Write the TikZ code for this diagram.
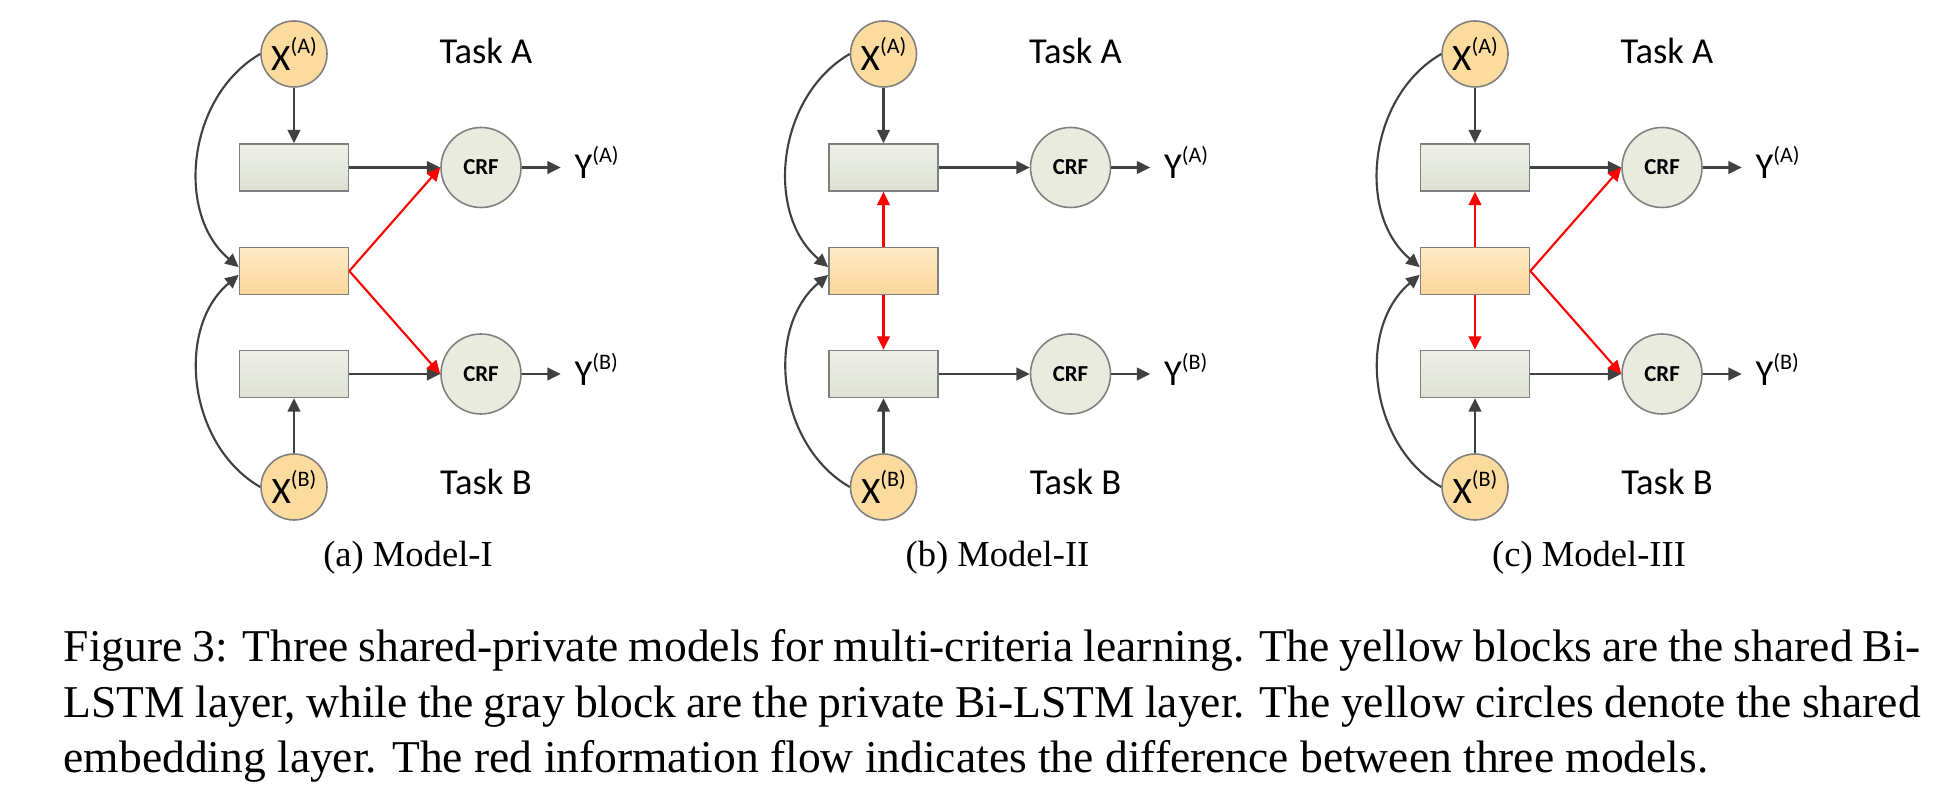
\documentclass[tikz,border=0pt]{standalone}
\usepackage{fontspec}
\setmainfont{Liberation Serif}
\newfontfamily\calibri{Carlito}
\usetikzlibrary{arrows.meta, positioning}

\definecolor{linegray}{HTML}{404040}
\definecolor{boxedge}{HTML}{7F7F7F}
\definecolor{privtop}{HTML}{EEF0E8}
\definecolor{privbot}{HTML}{DDE1D3}
\definecolor{shtop}{HTML}{FFEBC8}
\definecolor{shbot}{HTML}{FAD699}
\definecolor{embfill}{HTML}{FCDC9E}
\definecolor{crffill}{HTML}{E9EBDF}
\definecolor{flowred}{HTML}{FF0000}

\newcommand{\tsup}[1]{\raisebox{0.44em}{\fontsize{6.3}{7}\selectfont(#1)}}

\tikzset{
    arr/.style={draw=linegray, line width=0.6pt, -{Triangle[length=3.8pt,width=3.6pt]}},
    redarr/.style={draw=flowred, line width=0.6pt, -{Triangle[length=3.8pt,width=3.6pt]}},
    privbox/.style={draw=boxedge, line width=0.45pt, top color=privtop, bottom color=privbot,
        minimum width=1.09cm, minimum height=0.47cm, inner sep=0pt},
    shbox/.style={privbox, top color=shtop, bottom color=shbot},
    emb/.style={circle, draw=boxedge, line width=0.45pt, fill=embfill, minimum size=0.66cm,
        inner sep=0pt, font=\calibri\fontsize{10.6}{12}\selectfont},
    crf/.style={circle, draw=boxedge, line width=0.45pt, fill=crffill, minimum size=0.8cm,
        inner sep=0pt, font=\calibri\bfseries\fontsize{6.5}{8}\selectfont},
    ylab/.style={inner sep=0.13cm, font=\calibri\fontsize{10.4}{12}\selectfont},
    tasklab/.style={inner sep=0pt, font=\calibri\fontsize{10.4}{12}\selectfont},
    subcap/.style={inner sep=0pt, font=\fontsize{10.4}{12}\selectfont}
}

\begin{document}
\begin{tikzpicture}
    \useasboundingbox (0,0) rectangle (19.55,-7.89);

    \foreach \p/\dx/\lbl in {1/0/{(a) Model-I}, 2/5.895/{(b) Model-II}, 3/11.81/{(c) Model-III}}{
        % embedding layer
        \node[emb] (xa\p) at (\dx+2.94,-0.54) {X\tsup{A}};
        \node[emb] (xb\p) at (\dx+2.94,-4.87) {X\tsup{B}};
        % Bi-LSTM blocks
        \node[privbox] (pa\p) at (\dx+2.94,-1.675) {};
        \node[shbox] (sh\p) at (\dx+2.94,-2.71) {};
        \node[privbox] (pb\p) at (\dx+2.94,-3.74) {};
        % CRF and outputs
        \node[crf] (crfa\p) at (\dx+4.81,-1.675) {CRF};
        \node[crf] (crfb\p) at (\dx+4.81,-3.74) {CRF};
        \node[ylab, right=0.39cm of crfa\p, anchor=base west, yshift=-0.115cm] (ya\p) {Y\tsup{A}};
        \node[ylab, right=0.39cm of crfb\p, anchor=base west, yshift=-0.115cm] (yb\p) {Y\tsup{B}};

        \node[tasklab, anchor=base] (taska\p) at (\dx+4.86,-0.633) {Task A};
        \node[tasklab, anchor=base] (taskb\p) at (\dx+4.86,-4.95) {Task B};
        \node[subcap, anchor=base] (cap\p) at (\dx+4.08,-5.67) {\lbl};

        \draw[arr] (xa\p) -- (pa\p);
        \draw[arr] (xb\p) -- (pb\p);
        \draw[arr] (pa\p) -- (crfa\p);
        \draw[arr] (pb\p) -- (crfb\p);
        \draw[arr] (crfa\p) -- (crfa\p -| ya\p.west);
        \draw[arr] (crfb\p) -- (crfb\p -| yb\p.west);
        \draw[arr] (xa\p.west) to[out=210,in=140] (sh\p.176);
        \draw[arr] (xb\p.west) to[out=150,in=220] (sh\p.184);
    }

    % red flow, Model-I
    \draw[redarr] (sh1.east) -- (crfa1.west);
    \draw[redarr] (sh1.east) -- (crfb1.west);
    % Model-II
    \draw[redarr] (sh2) -- (pa2);
    \draw[redarr] (sh2) -- (pb2);
    % Model-III
    \draw[redarr] (sh3) -- (pa3);
    \draw[redarr] (sh3) -- (pb3);
    \draw[redarr] (sh3.east) -- (crfa3.west);
    \draw[redarr] (sh3.east) -- (crfb3.west);

    \node[anchor=base west, text width=18.57cm, align=justify, inner sep=0pt,
        font=\fontsize{12.95}{15.8}\selectfont] (figcap) at (0.63,-6.617)
        {Figure 3: Three shared-private models for multi-criteria learning. The yellow blocks are the shared Bi-\linebreak LSTM layer, while the gray block are the private Bi-LSTM layer. The yellow circles denote the shared\linebreak embedding layer. The red information flow indicates the difference between three models.};
\end{tikzpicture}
\end{document}
